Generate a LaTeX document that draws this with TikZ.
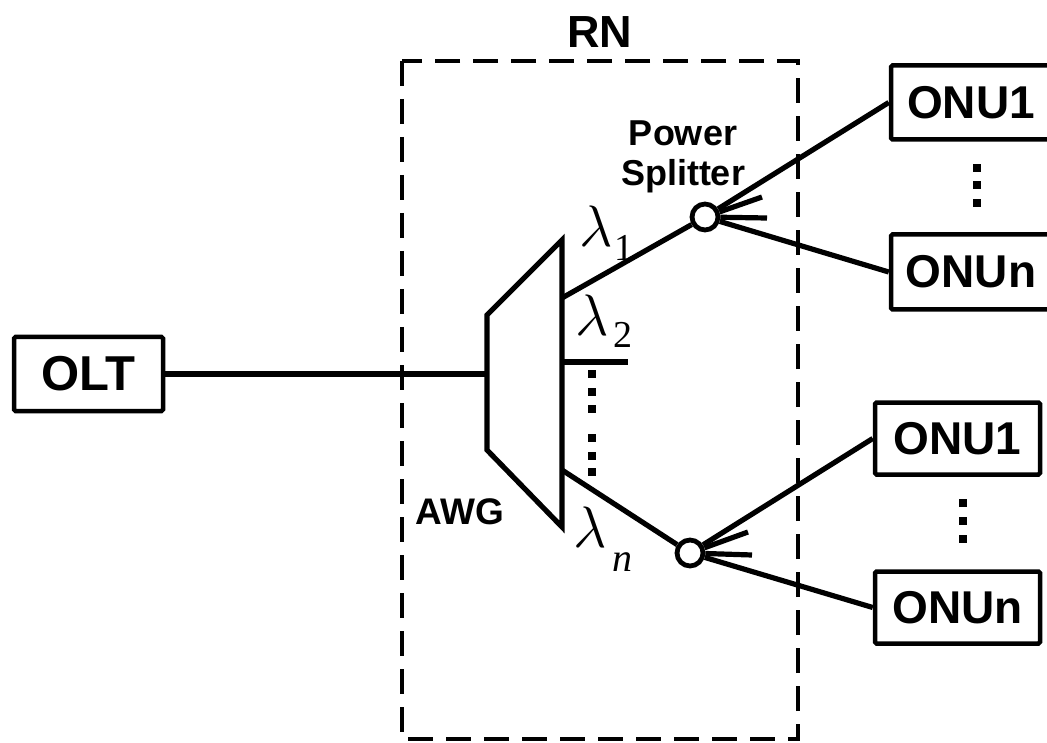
\documentclass[tikz,border=0pt]{standalone}
\usepackage{fontspec}
\setmainfont{Liberation Sans}
\newfontfamily\lamfont{Liberation Serif}
\newcommand{\biglam}{\scalebox{2.35}{\Huge$\lambda$}}
\begin{document}
\begin{tikzpicture}[x=1pt,y=-1pt,
  box/.style={draw,line width=4.5pt,rounded corners=1.5pt,font=\bfseries\fontsize{46}{48}\selectfont,inner sep=0pt,minimum width=165pt,minimum height=72pt},
  wire/.style={line width=5.2pt},
  splt/.style={circle,draw,line width=4.8pt,minimum size=26pt,inner sep=0pt,fill=white},
  dotsq/.style={fill=black,minimum size=7.5pt,inner sep=0pt,rectangle},
  lab/.style={font=\bfseries\fontsize{37}{40}\selectfont,align=center,inner sep=0pt},
  lam/.style={inner sep=0pt,anchor=base west},
  sub/.style={font=\lamfont\fontsize{38}{38}\selectfont,inner sep=0pt,anchor=base west}]
\clip (0,0) rectangle (1047,743);
\fill[white] (0,0) rectangle (1047,743);

% dashed RN box
\draw[line width=3.5pt,dash pattern=on 25pt off 13pt] (402,61) rectangle (798,739);
\node[lab,font=\bfseries\fontsize{45}{46}\selectfont] (rn) at (600,32) {RN};

% OLT
\node[box,font=\bfseries\fontsize{49}{50}\selectfont,minimum width=149pt,minimum height=74pt] (olt) at (88.5,374) {OLT};

% AWG
\coordinate (awgl) at (487,374);
\draw[wire,line join=miter] (487,315) -- (562,240) -- (562,527) -- (487,450) -- cycle;
\node[lab] (awg) at (460,512) {AWG};
\draw[wire] (olt.east) -- (awgl);

\coordinate (a1) at (562,298);
\coordinate (a2) at (562,362);
\coordinate (a2e) at (628,362);
\coordinate (an) at (562,470);

% splitters
\node[splt] (sp1) at (705,217) {};
\node[splt] (sp2) at (690,553) {};
\node[lab,font=\bfseries\fontsize{36}{40}\selectfont] (psl) at (683,157) {Power\\Splitter};

% ONUs
\node[box,minimum width=168pt,minimum height=74pt] (onu1a) at (975,102.5) {ONU1\hspace*{8pt}};
\node[box,minimum width=168pt,minimum height=75pt] (onuna) at (975,272) {ONUn\hspace*{8pt}};
\node[box] (onu1b) at (957.5,438.5) {ONU1};
\node[box] (onunb) at (957.5,607.5) {ONUn};

% wires
\draw[wire] (a1) -- (sp1);
\draw[wire] (a2) -- (a2e);
\draw[wire] (an) -- (sp2);
\coordinate (s1a) at (762,197);
\coordinate (s1b) at (767,218);
\coordinate (s2a) at (748,532);
\coordinate (s2b) at (752,555);
\draw[wire] (sp1) -- (onu1a.west);
\draw[wire] (sp1) -- (onuna.west);
\draw[wire] (sp1) -- (s1a);
\draw[wire] (sp1) -- (s1b);
\draw[wire] (sp2) -- (onu1b.west);
\draw[wire] (sp2) -- (onunb.west);
\draw[wire] (sp2) -- (s2a);
\draw[wire] (sp2) -- (s2b);

% dots
\foreach \y [count=\i] in {374,392,409,438,456,472} \node[dotsq] (dm\i) at (592,\y) {};
\foreach \y [count=\i] in {168,185,203} \node[dotsq] (du\i) at (977,\y) {};
\foreach \y [count=\i] in {503,521,539} \node[dotsq] (dl\i) at (963,\y) {};

% lambdas
\node[lam] (l1) at (579,247) {\biglam};
\node[sub] (l1s) at (614,261) {1};
\node[lam] (l2) at (575,335) {\biglam};
\node[sub] (l2s) at (613,348) {2};
\node[lam] (ln) at (573,547) {\biglam};
\node[sub,font=\lamfont\itshape\fontsize{40}{40}\selectfont] (lns) at (612,571) {n};
\end{tikzpicture}
\end{document}
